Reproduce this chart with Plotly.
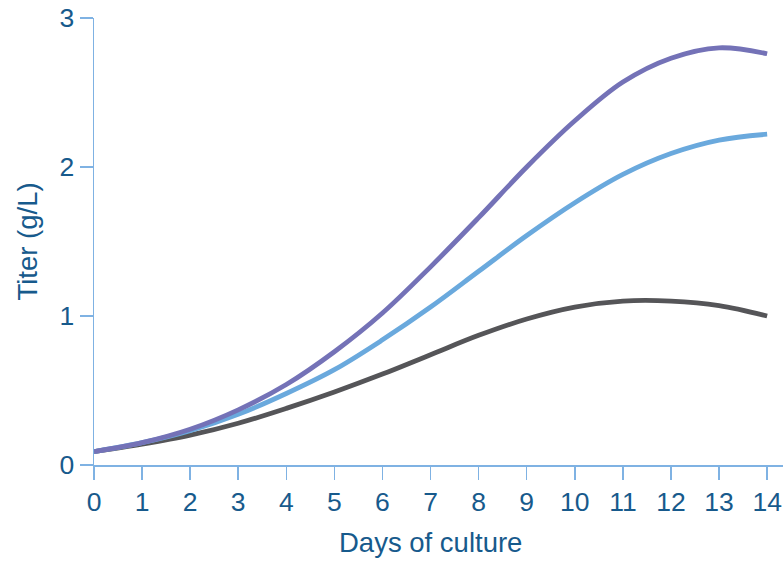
import plotly.graph_objects as go

days = list(range(0, 15))
titer_purple = [0.09, 0.15, 0.24, 0.37, 0.54, 0.76, 1.02, 1.33, 1.66, 2.00, 2.31, 2.57, 2.73, 2.80, 2.76]
titer_lightblue = [0.09, 0.15, 0.23, 0.34, 0.48, 0.64, 0.84, 1.06, 1.30, 1.54, 1.76, 1.95, 2.09, 2.18, 2.22]
titer_gray = [0.09, 0.14, 0.20, 0.28, 0.38, 0.49, 0.61, 0.74, 0.87, 0.98, 1.06, 1.10, 1.10, 1.07, 1.00]
x_ticks = list(range(0, 15))
y_ticks = [0, 1, 2, 3]
x_title = "Days of culture"
y_title = "Titer (g/L)"

text_color = "#175a8c"
axis_color = "#7fb2e3"
font_family = "Liberation Sans, Arial, sans-serif"

fig = go.Figure()
for vals, col in [(titer_gray, "#555558"), (titer_lightblue, "#6aa9dd"), (titer_purple, "#7472b7")]:
    fig.add_trace(go.Scatter(x=days, y=vals, mode="lines",
                             line=dict(color=col, width=4.8, shape="spline", smoothing=1.0),
                             showlegend=False, hoverinfo="skip"))

fig.update_layout(
    width=783, height=563,
    margin=dict(l=94, r=0, t=18, b=98),
    paper_bgcolor="white", plot_bgcolor="white",
    font=dict(family=font_family, size=26, color=text_color),
)
fig.update_xaxes(
    range=[0, 14.33], tickvals=x_ticks, ticktext=[str(v) for v in x_ticks],
    showgrid=False, zeroline=False, showline=True, linecolor=axis_color, linewidth=1.5,
    ticks="outside", ticklen=13, tickcolor=axis_color, tickwidth=1.5,
    tickfont=dict(size=26.5, color=text_color), ticklabeloverflow="allow",
)
fig.update_yaxes(
    range=[0, 3], tickvals=y_ticks, ticktext=[str(v) for v in y_ticks],
    showgrid=False, zeroline=False, showline=True, linecolor=axis_color, linewidth=1.5,
    ticks="outside", ticklen=13, tickcolor=axis_color, tickwidth=1.5,
    tickfont=dict(size=26.5, color=text_color), ticklabeloverflow="allow",
    title=dict(text=y_title, font=dict(size=27.5, color=text_color), standoff=14),
)
fig.add_annotation(text=x_title, x=7, xref="x", y=0, yref="paper",
                   xanchor="center", yanchor="top", yshift=-60, showarrow=False,
                   font=dict(size=27.5, color=text_color))

fig.write_html("out.html", config={"displayModeBar": False, "staticPlot": True},
               post_script="document.body.style.margin='0px';document.body.style.overflow='hidden';")
